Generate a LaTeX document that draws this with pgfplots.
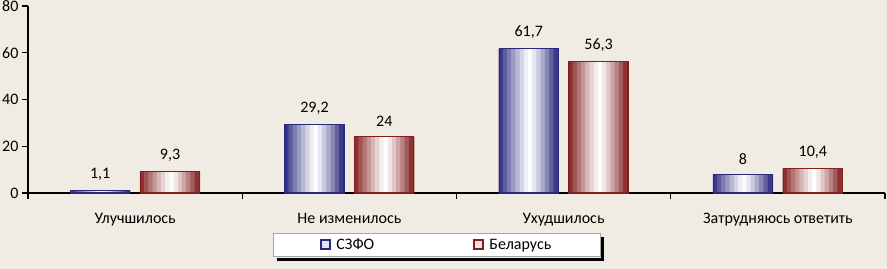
\documentclass[border=0pt]{standalone}
\usepackage{pgfplots}
\pgfplotsset{compat=1.18}
\usepackage{fontspec}
\setmainfont{Carlito}
\definecolor{bg}{RGB}{240,236,228}
\definecolor{navy}{RGB}{40,40,125}
\definecolor{dred}{RGB}{130,30,30}
\colorlet{nb0}{navy!92!white}\colorlet{nb1}{navy!76!white}\colorlet{nb2}{navy!61!white}
\colorlet{nb3}{navy!47!white}\colorlet{nb4}{navy!33!white}\colorlet{nb5}{navy!20!white}
\colorlet{nb6}{navy!8!white}\colorlet{nb7}{navy!1!white}\colorlet{nb8}{navy!11!white}
\colorlet{nb9}{navy!25!white}\colorlet{nb10}{navy!40!white}\colorlet{nb11}{navy!56!white}
\colorlet{nb12}{navy!73!white}\colorlet{nb13}{navy!91!white}
\colorlet{rb0}{dred!92!white}\colorlet{rb1}{dred!76!white}\colorlet{rb2}{dred!61!white}
\colorlet{rb3}{dred!47!white}\colorlet{rb4}{dred!33!white}\colorlet{rb5}{dred!20!white}
\colorlet{rb6}{dred!8!white}\colorlet{rb7}{dred!1!white}\colorlet{rb8}{dred!11!white}
\colorlet{rb9}{dred!25!white}\colorlet{rb10}{dred!40!white}\colorlet{rb11}{dred!56!white}
\colorlet{rb12}{dred!73!white}\colorlet{rb13}{dred!91!white}
\pgfplotsset{
  sqblue/.style={legend image code/.code={\path[draw=navy, line width=2.2pt, fill=navy!12!white] (0pt,-4pt) rectangle (9pt,5pt);}},
  sqred/.style={legend image code/.code={\path[draw=dred, line width=2.2pt, fill=dred!12!white] (0pt,-4pt) rectangle (9pt,5pt);}},
}
\pgfplotstableread{
x y
0.337 1.1
1.337 29.2
2.337 61.7
3.337 8
}\szfo
\pgfplotstableread{
x y
0.663 9.3
1.663 24
2.663 56.3
3.663 10.4
}\belarus
\begin{document}
\begin{tikzpicture}[x=1pt,y=1pt]
\fill[bg] (-20,-20) rectangle (910,290);
\begin{axis}[
  at={(28pt,75pt)}, anchor=south west,
  scale only axis, width=857pt, height=187pt,
  xmin=0, xmax=4, ymin=0, ymax=80,
  axis x line*=bottom, axis y line*=left,
  axis line style={-, line width=1.6pt, black},
  every tick/.style={black, line width=1.4pt},
  tick align=outside, major tick length=6pt,
  ytick={0,20,40,60,80},
  xtick={0,1,2,3,4}, xticklabels={},
  extra x ticks={0.5,1.5,2.5,3.5},
  extra x tick labels={Улучшилось, Не изменилось, Ухудшилось, Затрудняюсь ответить},
  extra x tick style={major tick length=0pt, xticklabel style={yshift=-17pt}},
  tick label style={font=\fontsize{16}{19}\selectfont, black},
  /pgf/number format/assume math mode=true,
  /pgf/number format/use comma,
  /pgf/number format/1000 sep={},
  clip=false,
  legend columns=2,
  legend style={name=leg, at={(0.477,-0.278)}, anchor=center, draw=gray!70, fill=white, line width=1pt,
    font=\fontsize{16}{19}\selectfont, inner xsep=47pt, inner ysep=3.5pt,
    /tikz/every odd column/.append style={column sep=3pt},
    /tikz/every even column/.append style={column sep=97pt}},
]
\pgfplotsinvokeforeach{0,1,2,3,4,5,6,7,8,9,10,11,12,13}{
  \addplot[ybar, forget plot, bar width=0.026, bar shift={-0.1375+(#1+0.5)*0.019643},
    fill=nb#1, draw=none] table[x=x,y=y] {\szfo};
  \addplot[ybar, forget plot, bar width=0.026, bar shift={-0.1375+(#1+0.5)*0.019643},
    fill=rb#1, draw=none] table[x=x,y=y] {\belarus};
}
\addplot[ybar, bar width=0.275, bar shift=0pt, draw=navy, line width=1.2pt, fill=none,
  sqblue, nodes near coords,
  nodes near coords style={font=\fontsize{16}{19}\selectfont, black, yshift=6pt}]
  table[x=x,y=y] {\szfo};
\addlegendentry{СЗФО}
\addplot[ybar, bar width=0.275, bar shift=0pt, draw=dred, line width=1.2pt, fill=none,
  sqred, nodes near coords,
  nodes near coords style={font=\fontsize{16}{19}\selectfont, black, yshift=6pt}]
  table[x=x,y=y] {\belarus};
\addlegendentry{Беларусь}
\end{axis}
\draw[black, line width=3pt] ([xshift=4pt,yshift=-2pt]leg.south west) -- ([xshift=2pt,yshift=-2pt]leg.south east) -- ([xshift=2pt,yshift=-4pt]leg.north east);
\pgfresetboundingbox
\path[use as bounding box] (0,0) rectangle (887,268);
\end{tikzpicture}
\end{document}
